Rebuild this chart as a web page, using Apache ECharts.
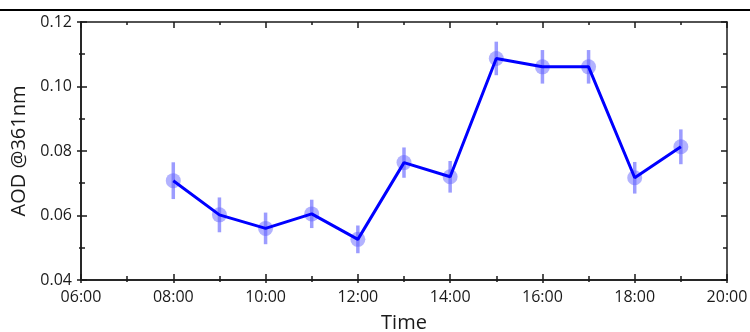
<!DOCTYPE html>
<html><head><meta charset="utf-8">
<script src="https://cdn.jsdelivr.net/npm/echarts@6/dist/echarts.min.js"></script>
<style>html,body{margin:0;padding:0;background:#fff}#c{width:750px;height:332px}</style>
</head><body><div id="c"></div>
<script>
const hours = [8, 9, 10, 11, 12, 13, 14, 15, 16, 17, 18, 19];
const aod = [0.0708, 0.0602, 0.0560, 0.0605, 0.0526, 0.0764, 0.0720, 0.1087, 0.1061, 0.1061, 0.0717, 0.0813];
const aodErr = [0.0057, 0.0054, 0.0049, 0.0044, 0.0043, 0.0047, 0.0049, 0.0052, 0.0052, 0.0052, 0.0049, 0.0054];
const xTitle = 'Time';
const yTitle = 'AOD @361nm';

const FONT = '"Open Sans", "Noto Sans", sans-serif';
const AX = '#1a1a1a';
const pts = hours.map((h, i) => [h, aod[i]]);
const errs = hours.map((h, i) => [h, aod[i] - aodErr[i], aod[i] + aodErr[i]]);

function xAx(pos, inside, len, mlen, labels, extra) {
  return Object.assign({
    type: 'value', position: pos, min: 6, max: 20, interval: 2,
    axisLine: { show: true, onZero: false, lineStyle: { color: AX, width: 1.5 } },
    axisTick: { show: true, inside: inside, length: len, lineStyle: { color: AX, width: 1.5 } },
    minorTick: { show: true, splitNumber: 2, length: mlen, lineStyle: { color: AX, width: 1.5 } },
    splitLine: { show: false },
    axisLabel: { show: labels, color: '#1a1a1a', fontFamily: FONT, fontSize: 16, margin: 9,
      formatter: v => (v < 10 ? '0' : '') + v + ':00' }
  }, extra || {});
}
function yAx(pos, inside, len, mlen, labels, extra) {
  return Object.assign({
    type: 'value', position: pos, min: 0.04, max: 0.12, interval: 0.02,
    axisLine: { show: true, onZero: false, lineStyle: { color: AX, width: 1.5 } },
    axisTick: { show: true, inside: inside, length: len, lineStyle: { color: AX, width: 1.5 } },
    minorTick: { show: true, splitNumber: 2, length: mlen, lineStyle: { color: AX, width: 1.5 } },
    splitLine: { show: false },
    axisLabel: { show: labels, color: '#1a1a1a', fontFamily: FONT, fontSize: 16, margin: 9,
      formatter: v => v.toFixed(2) }
  }, extra || {});
}

const chart = echarts.init(document.getElementById('c'), null, { renderer: 'canvas' });
chart.setOption({
  animation: false,
  backgroundColor: '#fff',
  grid: { left: 81, right: 23, top: 22, bottom: 52, containLabel: false, outerBoundsMode: 'none' },
  graphic: [{ type: 'line', shape: { x1: 0, y1: 10, x2: 750, y2: 10 }, style: { stroke: '#000', lineWidth: 2 } }],
  xAxis: [
    xAx('bottom', false, 3, 2, true, { name: xTitle, nameLocation: 'middle', nameGap: 33,
      nameTextStyle: { fontFamily: FONT, fontSize: 20, color: '#1a1a1a', verticalAlign: 'top' } }),
    xAx('bottom', true, 6, 4, false),
    xAx('top', true, 6, 3, false)
  ],
  yAxis: [
    yAx('left', false, 4, 2, true, { name: yTitle, nameLocation: 'middle', nameGap: 48,
      nameTextStyle: { fontFamily: FONT, fontSize: 20, color: '#1a1a1a' } }),
    yAx('left', true, 6, 4, false),
    yAx('right', true, 6, 4, false)
  ],
  series: [
    {
      type: 'custom', xAxisIndex: 0, yAxisIndex: 0, data: errs, z: 2,
      renderItem: function (params, api) {
        const x = api.value(0);
        const lo = api.coord([x, api.value(1)]);
        const hi = api.coord([x, api.value(2)]);
        return { type: 'line', shape: { x1: lo[0], y1: lo[1], x2: hi[0], y2: hi[1] },
          style: { stroke: 'rgba(90,90,255,0.6)', lineWidth: 3.5 } };
      }
    },
    {
      type: 'scatter', xAxisIndex: 0, yAxisIndex: 0, data: pts, z: 3,
      symbol: 'circle', symbolSize: 15,
      itemStyle: { color: 'rgba(100,100,255,0.62)' }
    },
    {
      type: 'line', xAxisIndex: 0, yAxisIndex: 0, data: pts, z: 4,
      symbol: 'none', lineStyle: { color: '#0000ff', width: 3 }
    }
  ]
});
</script></body></html>
